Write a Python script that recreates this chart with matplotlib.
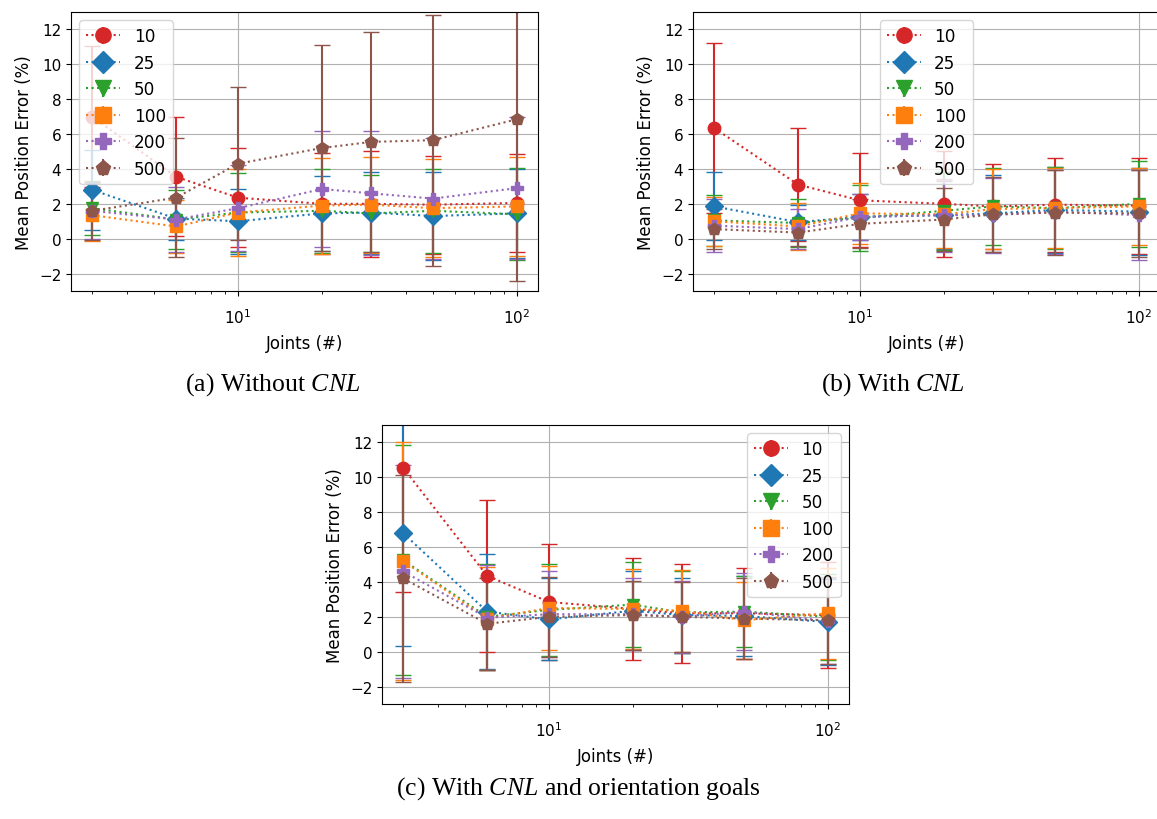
import numpy as np
import matplotlib
matplotlib.use("Agg")
import matplotlib.pyplot as plt

# joints on the x axis
joints = [3, 6, 10, 20, 30, 50, 100]
labels = ["10", "25", "50", "100", "200", "500"]
markers = ["o", "D", "v", "s", "P", "p"]
colors = ["#d62728", "#1f77b4", "#2ca02c", "#ff7f0e", "#9467bd", "#8c564b"]

# (a) without CNL
a_mean_10 = [7.0, 3.55, 2.35, 2.0, 2.0, 1.95, 2.05]
a_err_10 = [4.05, 3.4, 2.85, 2.9, 3.05, 2.8, 2.8]
a_mean_25 = [2.8, 1.15, 1.0, 1.45, 1.5, 1.3, 1.45]
a_err_25 = [2.3, 1.2, 1.85, 2.15, 2.35, 2.55, 2.55]
a_mean_50 = [1.75, 1.1, 1.5, 1.6, 1.45, 1.6, 1.4]
a_err_50 = [1.55, 1.7, 2.25, 2.4, 2.2, 2.4, 2.65]
a_mean_100 = [1.35, 0.7, 1.5, 1.9, 1.95, 1.75, 1.85]
a_err_100 = [1.5, 1.5, 2.5, 2.75, 2.75, 2.8, 2.85]
a_mean_200 = [1.6, 1.1, 1.75, 2.85, 2.6, 2.3, 2.9]
a_err_200 = [1.6, 1.85, 2.45, 3.35, 3.55, 3.45, 4.05]
a_mean_500 = [1.6, 2.35, 4.3, 5.2, 5.55, 5.65, 6.85]
a_err_500 = [1.65, 3.4, 4.4, 5.9, 6.3, 7.2, 9.25]

# (b) with CNL
b_mean_10 = [6.35, 3.1, 2.2, 2.0, 1.85, 1.95, 1.9]
b_err_10 = [4.9, 3.25, 2.7, 3.05, 2.45, 2.7, 2.75]
b_mean_25 = [1.85, 0.95, 1.25, 1.35, 1.45, 1.65, 1.55]
b_err_25 = [1.95, 1.0, 1.3, 1.95, 2.2, 2.45, 2.5]
b_mean_50 = [1.05, 0.9, 1.2, 1.6, 1.85, 1.75, 2.0]
b_err_50 = [1.45, 1.35, 1.9, 2.25, 2.2, 2.35, 2.45]
b_mean_100 = [1.0, 0.7, 1.45, 1.4, 1.7, 1.75, 1.85]
b_err_100 = [1.4, 1.35, 1.75, 1.95, 2.3, 2.3, 2.2]
b_mean_200 = [0.75, 0.55, 1.25, 1.35, 1.35, 1.55, 1.35]
b_err_200 = [1.5, 1.15, 1.3, 2.1, 2.15, 2.4, 2.6]
b_mean_500 = [0.55, 0.35, 0.85, 1.1, 1.4, 1.5, 1.45]
b_err_500 = [1.15, 0.75, 1.4, 1.8, 2.15, 2.45, 2.5]

# (c) with CNL and orientation goals
c_mean_10 = [10.55, 4.35, 2.85, 2.45, 2.2, 2.2, 2.1]
c_err_10 = [7.1, 4.35, 3.35, 2.9, 2.85, 2.6, 3.05]
c_mean_25 = [6.8, 2.3, 1.85, 2.35, 2.1, 2.05, 1.7]
c_err_25 = [6.5, 3.3, 2.35, 2.25, 2.15, 2.3, 2.45]
c_mean_50 = [5.25, 2.0, 2.4, 2.7, 2.25, 2.3, 2.0]
c_err_50 = [6.6, 3.05, 2.65, 2.45, 2.35, 2.05, 2.45]
c_mean_100 = [5.2, 1.9, 2.5, 2.45, 2.35, 1.8, 2.2]
c_err_100 = [6.85, 2.95, 2.4, 2.3, 2.35, 2.2, 2.6]
c_mean_200 = [4.6, 1.95, 2.15, 2.15, 2.0, 2.3, 1.75]
c_err_200 = [6.1, 3.0, 2.45, 2.05, 2.05, 2.2, 2.45]
c_mean_500 = [4.2, 1.6, 2.0, 2.1, 2.0, 1.9, 1.8]
c_err_500 = [5.95, 2.65, 2.3, 1.98, 2.0, 2.3, 2.5]

panel_a = ([a_mean_10, a_mean_25, a_mean_50, a_mean_100, a_mean_200, a_mean_500],
           [a_err_10, a_err_25, a_err_50, a_err_100, a_err_200, a_err_500])
panel_b = ([b_mean_10, b_mean_25, b_mean_50, b_mean_100, b_mean_200, b_mean_500],
           [b_err_10, b_err_25, b_err_50, b_err_100, b_err_200, b_err_500])
panel_c = ([c_mean_10, c_mean_25, c_mean_50, c_mean_100, c_mean_200, c_mean_500],
           [c_err_10, c_err_25, c_err_50, c_err_100, c_err_200, c_err_500])

plt.rcParams['mathtext.it'] = 'Liberation Serif:italic'
plt.rcParams['mathtext.rm'] = 'Liberation Serif'

W, H = 1157, 820
fig = plt.figure(figsize=(W / 100, H / 100), dpi=100)


def px_axes(left, top, width, height):
    return fig.add_axes([left / W, 1 - (top + height) / H, width / W, height / H])


def draw_panel(ax, data, legend_loc):
    means, errs = data
    for m, e, lab, mk, col in zip(means, errs, labels, markers, colors):
        ax.errorbar(joints, m, yerr=e, fmt=mk, linestyle=':', color=col,
                    markersize=9, capsize=6)
    ax.set_xscale('log')
    ax.set_xlim(2.52, 119)
    ax.set_ylim(-3, 13)
    ax.set_yticks(np.arange(-2, 13, 2))
    ax.grid(True)
    ax.tick_params(labelsize=11)
    ax.tick_params(axis='x', which='major', pad=8)
    ax.set_xlabel("Joints (#)", fontsize=12, labelpad=6)
    ax.set_ylabel("Mean Position Error (%)", fontsize=12)
    # legend handles: no caps, slightly bigger markers
    handles = []
    for mk, col in zip(markers, colors):
        h = ax.errorbar([np.nan], [np.nan], yerr=[0.0], fmt=mk, linestyle=':',
                        color=col, markersize=11, capsize=0)
        handles.append(h)
    ax.legend(handles, labels, loc=legend_loc, fontsize=12.2)


ax_a = px_axes(71, 13, 467, 279)
draw_panel(ax_a, panel_a, 'upper left')
ax_b = px_axes(693, 13, 467, 279)
draw_panel(ax_b, panel_b, 'upper center')
ax_c = px_axes(382, 426, 467, 279)
draw_panel(ax_c, panel_c, 'upper right')

cap_kw = dict(fontsize=18.5, family='Liberation Serif', math_fontfamily='custom',
              ha='center', va='baseline')
fig.text(273 / W, 1 - 391 / H, r"(a) Without $\mathit{CNL}$", **cap_kw)
fig.text(893 / W, 1 - 391 / H, r"(b) With $\mathit{CNL}$", **cap_kw)
fig.text(578 / W, 1 - 795 / H, r"(c) With $\mathit{CNL}$ and orientation goals", **cap_kw)

fig.savefig("out.png", dpi=100)
